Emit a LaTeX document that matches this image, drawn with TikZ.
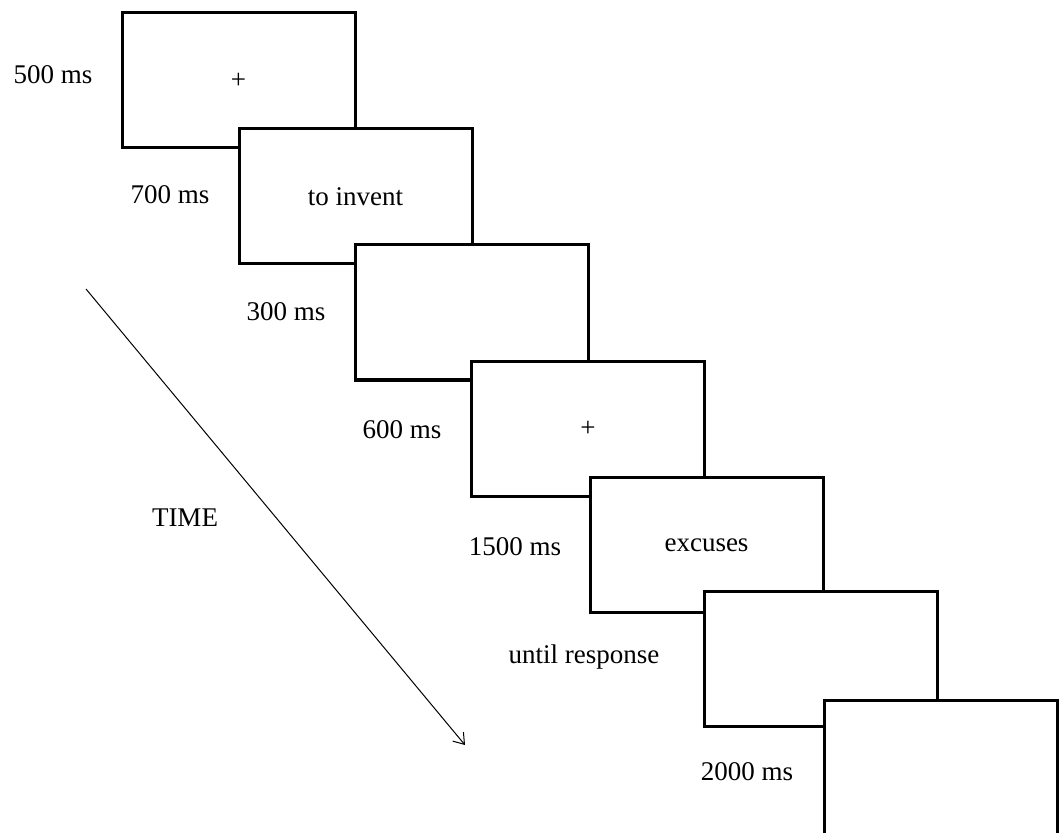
\documentclass[tikz,border=0pt]{standalone}
\usepackage{fontspec}
\setmainfont{Liberation Serif}
\usetikzlibrary{arrows.meta}

\begin{document}
\begin{tikzpicture}[x=0.5pt,y=-0.5pt,
  screen/.style={draw,line width=1.5pt,fill=white,minimum width=116.5pt,
    minimum height=67.5pt,inner sep=0pt,font=\fontsize{13.5}{16}\selectfont},
  dur/.style={font=\fontsize{13.5}{16}\selectfont}]
\clip (0,0) rectangle (1063,833);

\node[screen] (s1) at (238.5,80.5) {+};
\node[screen] (s2) at (355.5,196.5) {to invent};
\node[screen] (s3) at (471.5,312.5) {};
\node[screen] (s4) at (588,429) {+};
\node[screen] (s5) at (706.5,545) {excuses};
\node[screen] (s6) at (821,658.5) {};
\node[screen] (s7) at (940.5,767.5) {};

\node[dur] (d1) at (53,75) {500 ms};
\node[dur] (d2) at (170,195) {700 ms};
\node[dur] (d3) at (286,312) {300 ms};
\node[dur] (d4) at (402,430) {600 ms};
\node[dur] (d5) at (515,547) {1500 ms};
\node[dur] (d6) at (584,657) {until response};
\node[dur] (d7) at (747,772) {2000 ms};

\node[dur] (time) at (185,518) {TIME};
\coordinate (t0) at (86,289);
\coordinate (t1) at (465,745);
\draw[line width=0.5pt,-{Straight Barb[length=5pt,width=7pt]}] (t0) -- (t1);
\end{tikzpicture}
\end{document}
